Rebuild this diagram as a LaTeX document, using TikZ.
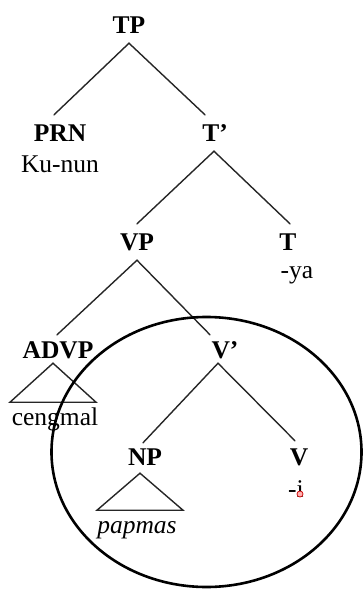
\documentclass[tikz,border=0pt]{standalone}
\usepackage{fontspec}
\setmainfont{Liberation Serif}
\begin{document}
\begin{tikzpicture}[x=1pt,y=-1pt,
  cat/.style={font=\fontsize{25.5}{30}\selectfont\bfseries, inner xsep=0pt, inner ysep=10pt,
              text height=16pt, text depth=0pt, anchor=base},
  word/.style={font=\fontsize{25.5}{30}\selectfont, inner sep=0pt, anchor=base},
  branch/.style={line width=1.4pt, line cap=round, black!85},
  roof/.style={line width=1.4pt, line join=miter, black!85}]
\useasboundingbox (0,0) rectangle (363,590);

% category labels
\node[cat] (TP)   at (129,33)  {TP};
\node[cat] (PRN)  at (60,141)  {PRN};
\node[cat] (Tbar) at (215,141) {T’};
\node[cat] (VP)   at (137,250) {VP};
\node[cat] (T)    at (288,250) {T};
\node[cat] (ADVP) at (58,358)  {ADVP};
\node[cat] (Vbar) at (225,358) {V’};
\node[cat] (NP)   at (145,465) {NP};
\node[cat] (V)    at (299,465) {V};

% lexical material
\node[word] (kunun)   at (60,172)  {Ku-nun};
\node[word] (ya)      at (297,278) {-ya};
\node[word] (cengmal) at (55,425)  {cengmal};
\node[word] (papmas)  at (137,533) {\itshape papmas};
\node[word] (i)       at (296,497) {-i};

% branches
\draw[branch] (TP.south) -- ([xshift=-6pt]PRN.north);
\draw[branch] (TP.south) -- ([xshift=-10pt]Tbar.north);
\draw[branch] ([xshift=-1pt]Tbar.south) -- (VP.north);
\draw[branch] ([xshift=-1pt]Tbar.south) -- ([xshift=2pt]T.north);
\draw[branch] (VP.south) -- ([xshift=-1pt,yshift=-3pt]ADVP.north);
\draw[branch] (VP.south) -- ([xshift=-15pt,yshift=-3pt]Vbar.north);
\draw[branch] ([shift={(-7,-5)}]Vbar.south) -- ([xshift=-2pt,yshift=-4pt]NP.north);
\draw[branch] ([shift={(-7,-5)}]Vbar.south) -- ([xshift=-4pt,yshift=-2pt]V.north);

% roofs over unanalysed phrases
\draw[roof] ([shift={(-5,-5)}]ADVP.south) -- ++(-43,39) -- ++(86,0) -- cycle;
\draw[roof] ([shift={(-5,-2)}]NP.south) -- ++(-43,37) -- ++(86,0) -- cycle;

% spell-check mark under the suffix
\draw[red!80!black, fill=red!30, line width=0.7pt] ([xshift=4pt,yshift=3pt]i.base) circle (3);

% circled constituent
\draw[line width=2.6pt] (206.5,452) ellipse [x radius=155, y radius=135];
\end{tikzpicture}
\end{document}
